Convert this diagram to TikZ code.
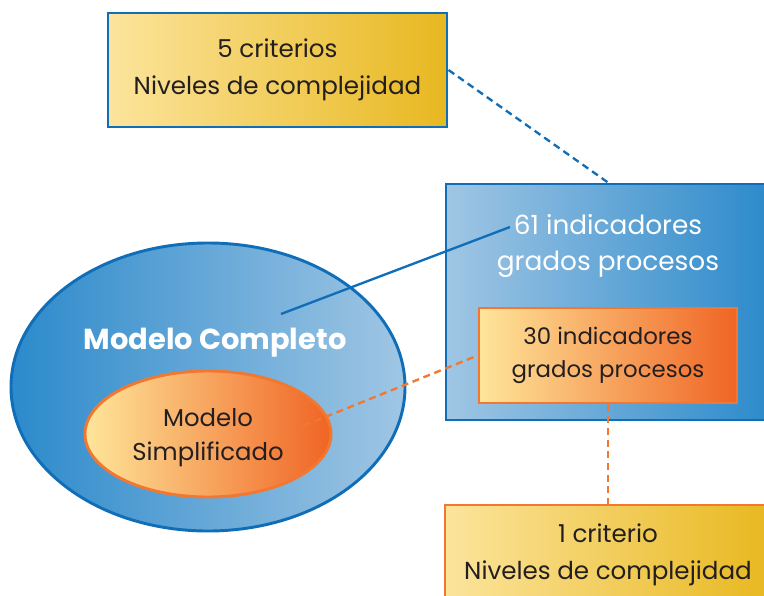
\documentclass[tikz,border=0pt]{standalone}
\usepackage{fontspec}
\setmainfont{Poppins}
\usepackage{xcolor}
\usepackage{tikz}
\usetikzlibrary{shapes.geometric, positioning}
\definecolor{lineblue}{RGB}{16,110,184}
\definecolor{lineorange}{RGB}{242,120,50}
\definecolor{goldlight}{RGB}{252,228,156}
\definecolor{golddark}{RGB}{232,184,32}
\definecolor{bluelight}{RGB}{160,198,228}
\definecolor{bluedark}{RGB}{44,138,203}
\definecolor{orangelight}{RGB}{254,230,154}
\definecolor{orangedark}{RGB}{240,100,36}
\definecolor{textdark}{RGB}{35,31,32}

\begin{document}
\begin{tikzpicture}[
    x=0.03cm, y=-0.03cm,
    critbox/.style={draw, line width=2.5pt, left color=goldlight, right color=golddark, minimum width=10.17cm, align=center, text=textdark, font=\fontsize{21}{31.5}\selectfont},
    bigbox/.style={draw=lineblue, line width=2.5pt, left color=bluelight, right color=bluedark, minimum width=9.72cm, minimum height=7.08cm},
    smallbox/.style={draw=lineorange, line width=2.3pt, left color=orangelight, right color=orangedark, minimum width=7.74cm, minimum height=2.85cm, align=center, text=textdark, font=\fontsize{19.5}{28}\selectfont},
    modelo/.style={ellipse, line width=2.5pt, align=center},
    link/.style={line width=2pt}
]
    \useasboundingbox (0,0) rectangle (764,596);

    % Models
    \node[modelo, draw=lineblue, left color=bluedark, right color=bluelight, minimum width=11.82cm, minimum height=8.64cm] (completo) at (208,387) {};
    \node[font=\bfseries\fontsize{24.7}{28}\selectfont, text=white] (completotxt) at (215,343) {Modelo Completo};
    \node[modelo, draw=lineorange, left color=orangelight, right color=orangedark, minimum width=7.38cm, minimum height=3.78cm, text=textdark, font=\fontsize{20.8}{29}\selectfont] (simple) at (208,434) {\\[-8pt]Modelo\\Simplificado};

    % Indicators
    \node[bigbox] (procesos) at (608,302) {};
    \node[align=center, text=white, font=\fontsize{22.5}{30}\selectfont] (ind61) at (608,246) {61 indicadores\\grados procesos};
    \node[smallbox] (ind30) at (608,355.5) {30 indicadores\\grados procesos};

    % Criteria
    \node[critbox, draw=lineblue, minimum height=3.42cm] (crit5) at (277.5,70) {5 criterios\\Niveles de complejidad};
    \node[critbox, draw=lineorange, minimum width=9.78cm, minimum height=3cm] (crit1) at (608,555) {1 criterio\\Niveles de complejidad};

    % Connections
    \coordinate (completopin) at (281,314);
    \coordinate (ind61pin) at (510,227);
    \coordinate (simplepin) at (293,430);
    \draw[link, draw=lineblue] (completopin) -- (ind61pin);
    \draw[link, draw=lineblue, dash pattern=on 6pt off 4pt] (crit5.east) -- (procesos.north);
    \draw[link, draw=lineorange, dash pattern=on 6pt off 4pt] (simplepin) -- (ind30.west);
    \draw[link, draw=lineorange, dash pattern=on 6pt off 4pt] (ind30.south) -- (crit1.north);
\end{tikzpicture}
\end{document}
